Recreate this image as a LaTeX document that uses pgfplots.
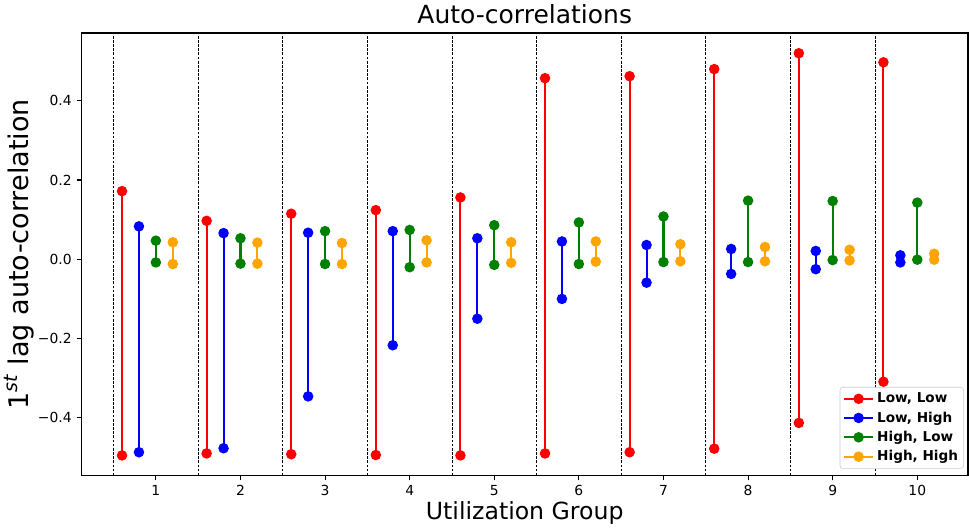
\documentclass[border=0pt]{standalone}
\usepackage{pgfplots}
\pgfplotsset{compat=1.18}
\usepackage{fontspec}
\setmainfont{DejaVu Sans}
\definecolor{mplred}{RGB}{255,0,0}
\definecolor{mplblue}{RGB}{0,0,255}
\definecolor{mplgreen}{RGB}{0,128,0}
\definecolor{mplorange}{RGB}{255,165,0}
\begin{document}
\begin{tikzpicture}[x=1pt,y=1pt]
\begin{axis}[
  scale only axis,
  width=639pt, height=319pt,
  xmin=0.12, xmax=10.6,
  ymin=-0.546, ymax=0.571,
  unbounded coords=jump,
  xtick={1,2,3,4,5,6,7,8,9,10},
  ytick={-0.4,-0.2,0,0.2,0.4},
  yticklabels={−0.4,−0.2,0.0,0.2,0.4},
  xtick pos=bottom, ytick pos=left,
  tick align=outside,
  major tick length=3.5pt,
  every tick/.style={black, line width=0.8pt},
  axis line style={black, line width=0.8pt},
  tick label style={font=\fontsize{10}{12}\selectfont},
  /pgf/number format/assume math mode=true,
  title={Auto-correlations},
  title style={font=\fontsize{18}{21}\selectfont, yshift=-3pt},
  xlabel={Utilization Group},
  ylabel={1\textsuperscript{\textit{st}} lag auto-correlation},
  xlabel style={font=\fontsize{17}{20}\selectfont, yshift=3pt},
  ylabel style={font=\fontsize{19.5}{22}\selectfont, yshift=-4pt},
  legend style={at={(1,0)}, anchor=south east, xshift=-3pt, yshift=5pt,
    font=\fontsize{9.8}{11}\selectfont\bfseries, draw=black!20, rounded corners=2pt,
    row sep=1pt, inner sep=2pt},
  legend cell align=left,
  legend image code/.code={%
    \draw[#1] (0cm,0cm) -- (0.75cm,0cm);
    \draw[#1, mark repeat=1] plot coordinates {(0.375cm,0cm)};},
  clip=false,
]
% group separators
\addplot[black, line width=0.6pt, dash pattern=on 2pt off 1pt, forget plot] coordinates {
(0.5,-0.546) (0.5,0.571) (nan,nan)
(1.5,-0.546) (1.5,0.571) (nan,nan)
(2.5,-0.546) (2.5,0.571) (nan,nan)
(3.5,-0.546) (3.5,0.571) (nan,nan)
(4.5,-0.546) (4.5,0.571) (nan,nan)
(5.5,-0.546) (5.5,0.571) (nan,nan)
(6.5,-0.546) (6.5,0.571) (nan,nan)
(7.5,-0.546) (7.5,0.571) (nan,nan)
(8.5,-0.546) (8.5,0.571) (nan,nan)
(9.5,-0.546) (9.5,0.571)
};
% Low, Low
\addplot[mplred, line width=1.5pt, mark=*, mark size=3pt] coordinates {
(0.6,0.172) (0.6,-0.495) (nan,nan)
(1.6,0.097) (1.6,-0.490) (nan,nan)
(2.6,0.115) (2.6,-0.492) (nan,nan)
(3.6,0.124) (3.6,-0.494) (nan,nan)
(4.6,0.156) (4.6,-0.495) (nan,nan)
(5.6,0.457) (5.6,-0.490) (nan,nan)
(6.6,0.462) (6.6,-0.487) (nan,nan)
(7.6,0.480) (7.6,-0.478) (nan,nan)
(8.6,0.520) (8.6,-0.413) (nan,nan)
(9.6,0.497) (9.6,-0.309)
};
\addlegendentry{Low, Low}
% Low, High
\addplot[mplblue, line width=1.5pt, mark=*, mark size=3pt] coordinates {
(0.8,0.083) (0.8,-0.487) (nan,nan)
(1.8,0.066) (1.8,-0.477) (nan,nan)
(2.8,0.067) (2.8,-0.346) (nan,nan)
(3.8,0.071) (3.8,-0.217) (nan,nan)
(4.8,0.053) (4.8,-0.150) (nan,nan)
(5.8,0.045) (5.8,-0.100) (nan,nan)
(6.8,0.036) (6.8,-0.059) (nan,nan)
(7.8,0.026) (7.8,-0.037) (nan,nan)
(8.8,0.021) (8.8,-0.025) (nan,nan)
(9.8,0.010) (9.8,-0.008)
};
\addlegendentry{Low, High}
% High, Low
\addplot[mplgreen, line width=1.5pt, mark=*, mark size=3pt] coordinates {
(1.0,0.047) (1.0,-0.008) (nan,nan)
(2.0,0.053) (2.0,-0.011) (nan,nan)
(3.0,0.071) (3.0,-0.012) (nan,nan)
(4.0,0.074) (4.0,-0.020) (nan,nan)
(5.0,0.086) (5.0,-0.014) (nan,nan)
(6.0,0.093) (6.0,-0.012) (nan,nan)
(7.0,0.108) (7.0,-0.007) (nan,nan)
(8.0,0.148) (8.0,-0.007) (nan,nan)
(9.0,0.147) (9.0,-0.002) (nan,nan)
(10.0,0.143) (10.0,-0.001)
};
\addlegendentry{High, Low}
% High, High
\addplot[mplorange, line width=1.5pt, mark=*, mark size=3pt] coordinates {
(1.2,0.043) (1.2,-0.012) (nan,nan)
(2.2,0.042) (2.2,-0.011) (nan,nan)
(3.2,0.041) (3.2,-0.012) (nan,nan)
(4.2,0.048) (4.2,-0.008) (nan,nan)
(5.2,0.043) (5.2,-0.009) (nan,nan)
(6.2,0.045) (6.2,-0.006) (nan,nan)
(7.2,0.038) (7.2,-0.005) (nan,nan)
(8.2,0.031) (8.2,-0.005) (nan,nan)
(9.2,0.024) (9.2,-0.003) (nan,nan)
(10.2,0.014) (10.2,-0.001)
};
\addlegendentry{High, High}
\end{axis}
\path (current axis.south west) ++(-57.6pt,-36.7pt) coordinate (bbsw);
\path (current axis.north east) ++(0.7pt,23.8pt) coordinate (bbne);
\path (bbsw) (bbne);
\end{tikzpicture}
\end{document}
